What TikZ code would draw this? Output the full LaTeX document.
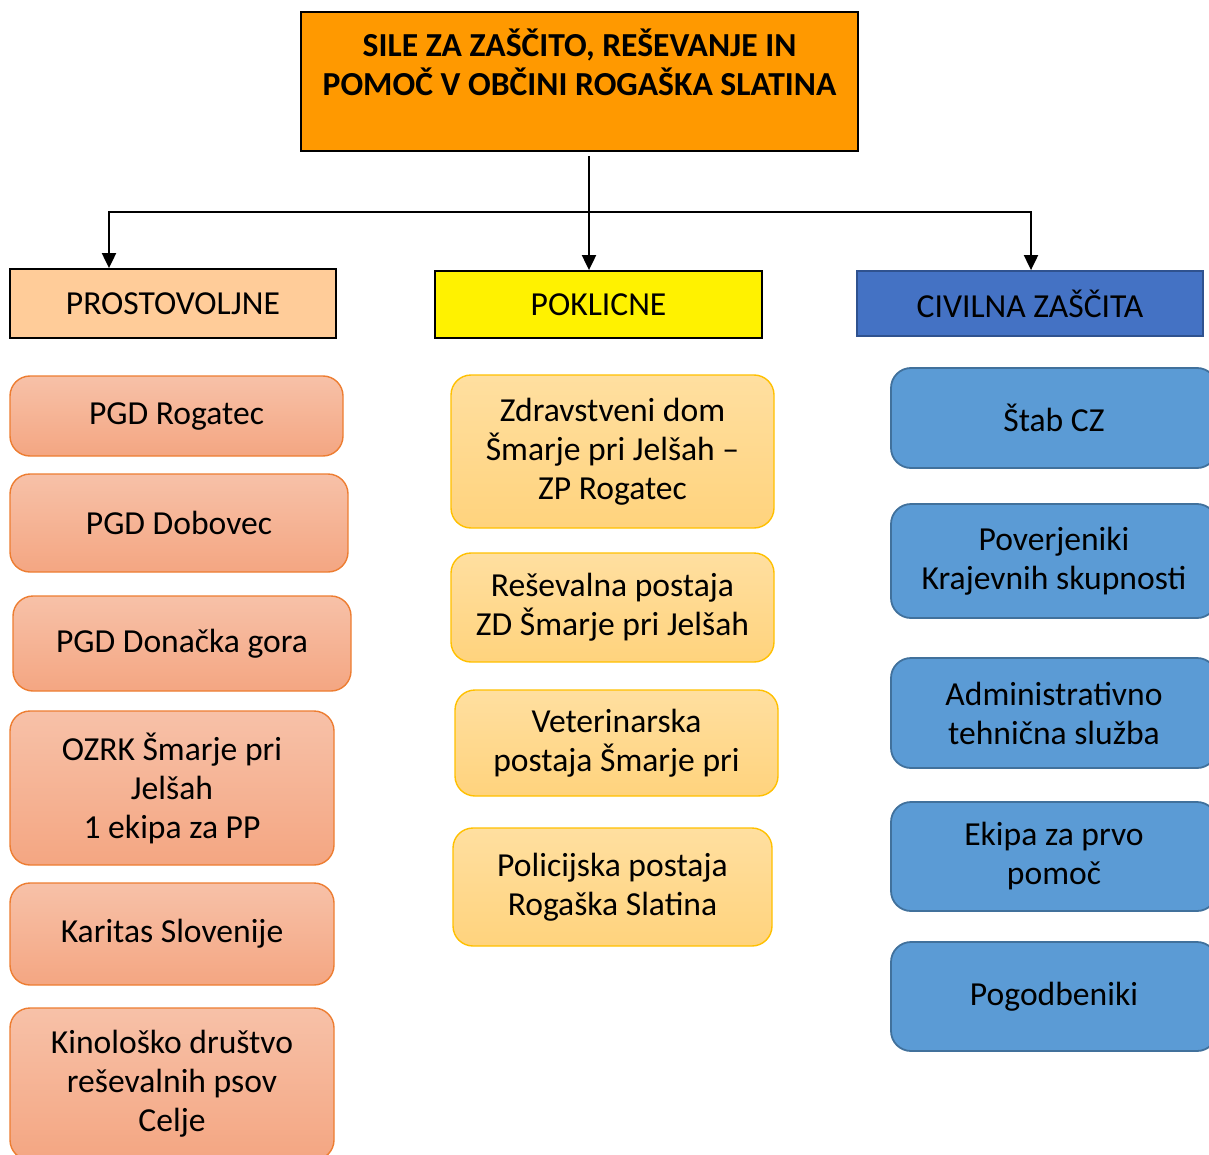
\documentclass[tikz,border=0pt]{standalone}
\usepackage{fontspec}
\setmainfont{Carlito}
\usepackage{xcolor}
\usepackage{tikz}
\usetikzlibrary{shapes,arrows.meta,positioning,calc}

\definecolor{titleorange}{RGB}{255,153,0}
\definecolor{peach}{RGB}{255,204,153}
\definecolor{civblue}{RGB}{68,114,196}
\definecolor{civline}{RGB}{47,82,143}
\definecolor{voltop}{RGB}{247,193,168}
\definecolor{volbot}{RGB}{244,166,130}
\definecolor{volline}{RGB}{237,125,49}
\definecolor{proftop}{RGB}{255,223,160}
\definecolor{profbot}{RGB}{255,211,125}
\definecolor{profline}{RGB}{255,192,0}
\definecolor{unitblue}{RGB}{91,155,213}
\definecolor{unitline}{RGB}{65,113,156}

\newcommand{\boxfont}{\fontsize{16.8}{19.5}\selectfont}

\begin{document}
\begin{tikzpicture}[x=0.5pt, y=-0.5pt, >={Triangle[length=7.5pt,width=7pt]}, font=\boxfont]
        \tikzstyle{head} = [rectangle, draw=black, line width=0.9pt, inner sep=0pt, align=center]
        \tikzstyle{vol} = [rectangle, rounded corners=10pt, draw=volline, line width=0.7pt, top color=voltop, bottom color=volbot, inner sep=0pt, align=center]
        \tikzstyle{prof} = [rectangle, rounded corners=10pt, draw=profline, line width=0.7pt, top color=proftop, bottom color=profbot, inner sep=0pt, align=center]
        \tikzstyle{unit} = [rectangle, rounded corners=10pt, draw=unitline, line width=0.9pt, fill=unitblue, inner sep=0pt, align=center]
        \tikzstyle{line} = [draw, ->, line width=1pt]

        \useasboundingbox (0,0) rectangle (1209,1155);

        \node [head, fill=titleorange, font=\boxfont\bfseries, minimum width=278.5pt, minimum height=69.5pt] (title) at (579.5,81.5) {SILE ZA ZAŠČITO, REŠEVANJE IN\\POMOČ V OBČINI ROGAŠKA SLATINA\\~};

        % three groups
        \node [head, fill=peach, minimum width=163pt, minimum height=34.5pt] (pros) at (173,303.5) {PROSTOVOLJNE};
        \node [head, fill=yellow, minimum width=163.5pt, minimum height=33.5pt] (pok) at (598.5,304.5) {POKLICNE};
        \node [head, draw=civline, fill=civblue, minimum width=173pt, minimum height=32.5pt] (civ) at (1030,303.5) {CIVILNA ZAŠČITA};

        % volunteer units
        \node [vol, minimum width=166.5pt, minimum height=40pt] (pgd1) at (176.5,416) {PGD Rogatec};
        \node [vol, minimum width=169pt, minimum height=49pt] (pgd2) at (179,523) {PGD Dobovec};
        \node [vol, minimum width=169pt, minimum height=47.5pt] (pgd3) at (182,643.5) {PGD Donačka gora};
        \node [vol, minimum width=162pt, minimum height=77pt] (ozrk) at (172,788) {OZRK Šmarje pri\\Jelšah\\1 ekipa za PP};
        \node [vol, minimum width=162pt, minimum height=51pt] (karitas) at (172,934) {Karitas Slovenije};
        \node [vol, minimum width=162pt, minimum height=76pt] (kino) at (172,1084) {Kinološko društvo\\reševalnih psov\\Celje};

        % professional units
        \node [prof, minimum width=161.5pt, minimum height=76.5pt] (zd) at (612.5,451.5) {Zdravstveni dom\\Šmarje pri Jelšah –\\ZP Rogatec};
        \node [prof, minimum width=161.5pt, minimum height=54.5pt] (resp) at (612.5,607.5) {Reševalna postaja\\ZD Šmarje pri Jelšah};
        \node [prof, minimum width=161.5pt, minimum height=53pt] (vet) at (616.5,743) {Veterinarska\\postaja Šmarje pri};
        \node [prof, minimum width=159.5pt, minimum height=59pt] (pol) at (612.5,887) {Policijska postaja\\Rogaška Slatina};

        % civil protection units
        \node [unit, minimum width=163pt, minimum height=50pt] (stab) at (1054,418) {Štab CZ};
        \node [unit, minimum width=163pt, minimum height=57pt] (pover) at (1054,561) {Poverjeniki\\Krajevnih skupnosti};
        \node [unit, minimum width=163pt, minimum height=55pt] (admin) at (1054,713) {Administrativno\\tehnična služba};
        \node [unit, minimum width=163pt, minimum height=54.5pt] (ekipa) at (1054,856.5) {Ekipa za prvo\\pomoč};
        \node [unit, minimum width=163pt, minimum height=54.5pt] (pogod) at (1054,996.5) {Pogodbeniki};

        % branching
        \coordinate (split) at (589,212);
        \coordinate (jl) at (109,212);
        \coordinate (jr) at (1031,212);
        \path [line] ($(title.south -| split)+(0,4)$) -- (pok.north -| split);
        \path [line] (split) -- (jl) -- (jl |- pros.north);
        \path [line] (split) -- (jr) -- (jr |- civ.north);
    \end{tikzpicture}
\end{document}
